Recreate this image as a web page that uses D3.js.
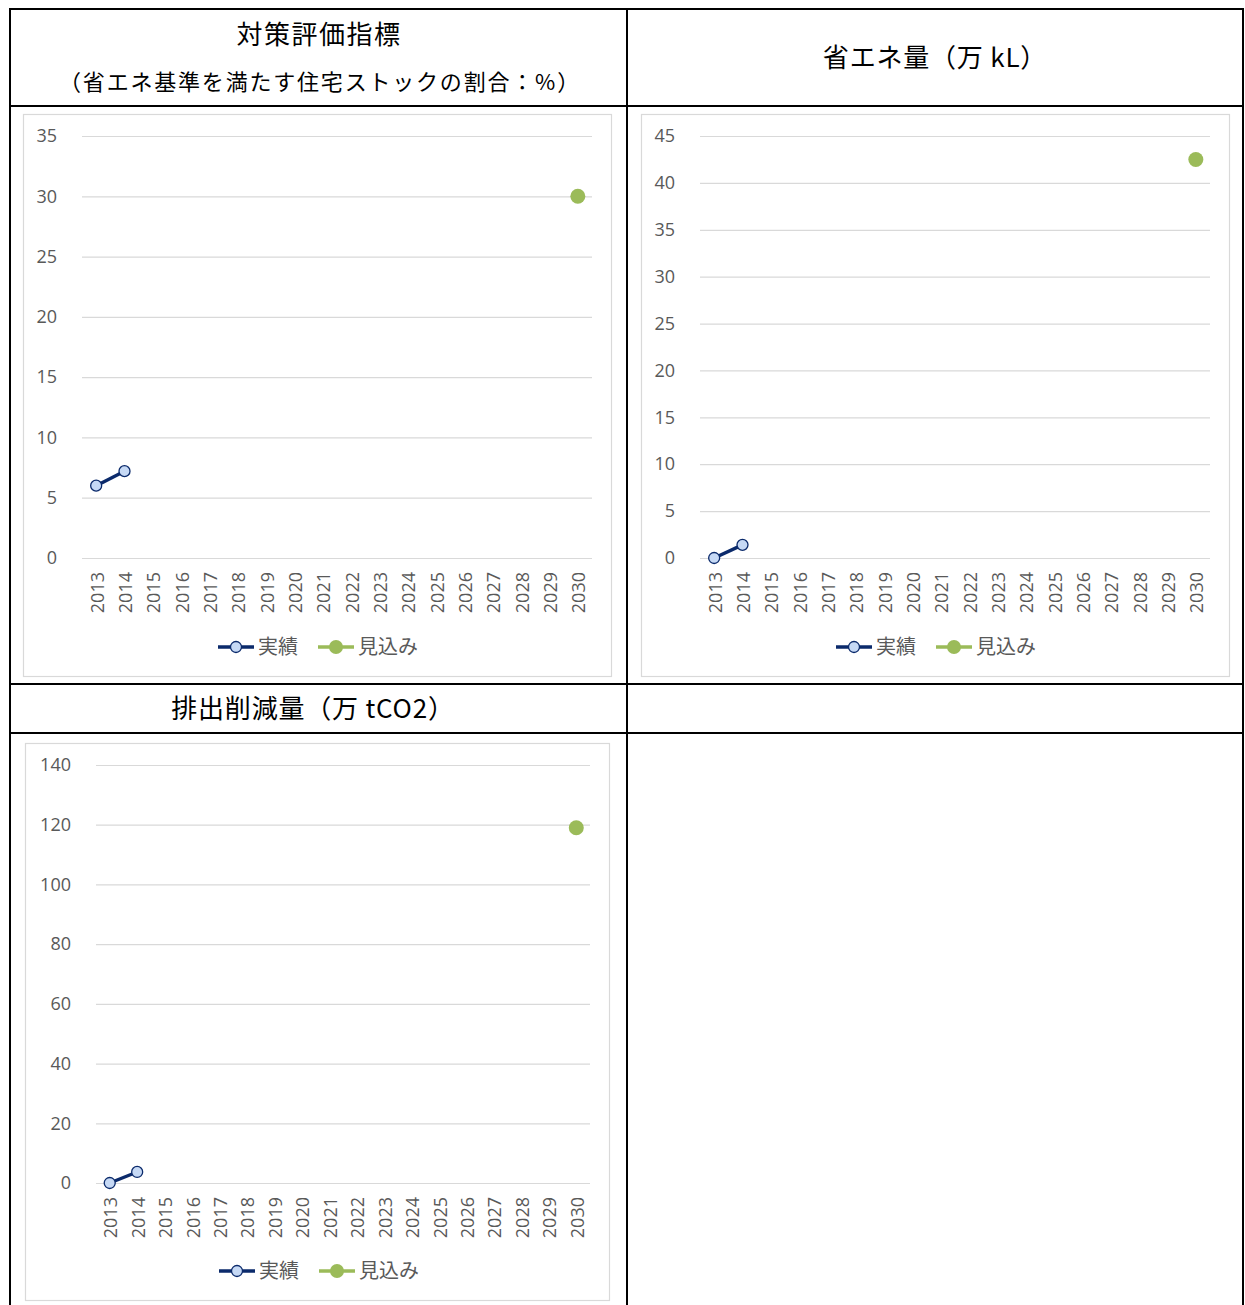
<!DOCTYPE html>
<html>
<head>
<meta charset="utf-8">
<script src="https://cdn.jsdelivr.net/npm/d3@7"></script>
<style>
  html, body { margin: 0; padding: 0; background: #fff; }
  svg { display: block; }
</style>
</head>
<body>
<svg id="chart" width="1245" height="1305"></svg>
<script>
// ---- data ----
const years = ["2013","2014","2015","2016","2017","2018","2019","2020","2021","2022","2023","2024","2025","2026","2027","2028","2029","2030"];
const seriesNames = ["実績", "見込み"];

const titles = ["対策評価指標", "（省エネ基準を満たす住宅ストックの割合：%）", "省エネ量（万 kL）", "排出削減量（万 tCO2）"];

const ratioTicks = [0, 5, 10, 15, 20, 25, 30, 35];
const ratioActualYears = ["2013", "2014"];
const ratioActual = [6.0, 7.2];
const ratioForecastYears = ["2030"];
const ratioForecast = [30];

const energyTicks = [0, 5, 10, 15, 20, 25, 30, 35, 40, 45];
const energyActualYears = ["2013", "2014"];
const energyActual = [0, 1.4];
const energyForecastYears = ["2030"];
const energyForecast = [42.5];

const co2Ticks = [0, 20, 40, 60, 80, 100, 120, 140];
const co2ActualYears = ["2013", "2014"];
const co2Actual = [0, 3.7];
const co2ForecastYears = ["2030"];
const co2Forecast = [119];

// ---- styles ----
const navy = "#0b2a6b";
const lightBlue = "#c6d9f5";
const green = "#9bbb59";
const gridColor = "#d9d9d9";
const textGray = "#595959";
const tickFont = "'Open Sans', 'Liberation Sans', sans-serif";
const jpFont = "'Noto Sans CJK JP', sans-serif";

const svg = d3.select("#chart");

// ---- table frame ----
const frame = svg.append("g").attr("stroke", "#000").attr("stroke-width", 2).attr("fill", "none");
[[9, 9, 1244, 9], [9, 106, 1244, 106], [9, 684, 1244, 684], [9, 733, 1244, 733],
 [10, 9, 10, 1305], [627, 9, 627, 1305], [1243, 9, 1243, 1305]].forEach(l => {
  frame.append("line").attr("x1", l[0]).attr("y1", l[1]).attr("x2", l[2]).attr("y2", l[3]);
});

// ---- headers ----
function header(txt, x, y, size, ls) {
  svg.append("text").attr("x", x).attr("y", y)
    .attr("text-anchor", "middle")
    .attr("font-family", jpFont).attr("font-size", size)
    .attr("letter-spacing", ls)
    .attr("fill", "#000").text(txt);
}
header(titles[0], 319, 44, 26, 1.5);
header(titles[1], 320, 90, 22, 1.8);
header(titles[2], 935, 67, 26, 0.8);
header(titles[3], 313, 718, 26, 0.8);

// ---- chart drawing ----
function drawChart(cfg) {
  const g = svg.append("g");
  // panel
  g.append("rect")
    .attr("x", cfg.panel[0] + 0.5).attr("y", cfg.panel[1] + 0.5)
    .attr("width", cfg.panel[2] - cfg.panel[0]).attr("height", cfg.panel[3] - cfg.panel[1])
    .attr("fill", "#fff").attr("stroke", gridColor).attr("stroke-width", 1.2);

  const x = d3.scalePoint().domain(years).range([cfg.x0, cfg.x1]).padding(0.5);
  const y = d3.scaleLinear().domain([0, d3.max(cfg.ticks)]).range([cfg.y0, cfg.y1]);

  // gridlines + y labels
  const yAxis = d3.axisLeft(y).tickValues(cfg.ticks).tickSize(-(cfg.x1 - cfg.x0)).tickPadding(25);
  const ya = g.append("g").attr("transform", `translate(${cfg.x0},0)`).call(yAxis);
  ya.select(".domain").remove();
  ya.selectAll(".tick line").attr("stroke", gridColor).attr("stroke-width", 1.2);
  ya.selectAll(".tick text").attr("font-family", tickFont).attr("font-size", 18)
    .attr("fill", textGray);

  // x labels
  const xAxis = d3.axisBottom(x).tickSize(0).tickPadding(0);
  const xa = g.append("g").attr("transform", `translate(0,${cfg.y0})`).call(xAxis);
  xa.select(".domain").remove();
  xa.selectAll(".tick text")
    .attr("font-family", tickFont).attr("font-size", 18).attr("fill", textGray)
    .attr("text-anchor", "end").attr("dy", null).attr("y", 0)
    .attr("dominant-baseline", "central")
    .attr("transform", "translate(0,14) rotate(-90)");

  // actual series
  const actual = cfg.actualYears.map((yr, i) => ({ yr, v: cfg.actual[i] }));
  g.append("path").datum(actual)
    .attr("fill", "none").attr("stroke", navy).attr("stroke-width", 3.4)
    .attr("d", d3.line().x(d => x(d.yr)).y(d => y(d.v)));
  g.selectAll(".act").data(actual).enter().append("circle")
    .attr("cx", d => x(d.yr)).attr("cy", d => y(d.v)).attr("r", 5.5)
    .attr("fill", lightBlue).attr("stroke", navy).attr("stroke-width", 1.3);

  // forecast series
  const fc = cfg.forecastYears.map((yr, i) => ({ yr, v: cfg.forecast[i] }));
  g.selectAll(".fc").data(fc).enter().append("circle")
    .attr("cx", d => x(d.yr)).attr("cy", d => y(d.v)).attr("r", 7.5)
    .attr("fill", green);

  // legend
  const lg = g.append("g").attr("transform", `translate(${cfg.legendX},${cfg.legendY})`);
  // item 1
  lg.append("line").attr("x1", 0).attr("x2", 36).attr("y1", 0).attr("y2", 0)
    .attr("stroke", navy).attr("stroke-width", 3.4);
  lg.append("circle").attr("cx", 18).attr("cy", 0).attr("r", 5.5)
    .attr("fill", lightBlue).attr("stroke", navy).attr("stroke-width", 1.3);
  lg.append("text").attr("x", 40).attr("y", 0).attr("dy", "0.35em")
    .attr("font-family", jpFont).attr("font-size", 20).attr("fill", textGray).text(seriesNames[0]);
  // item 2
  lg.append("line").attr("x1", 100).attr("x2", 136).attr("y1", 0).attr("y2", 0)
    .attr("stroke", green).attr("stroke-width", 3.4);
  lg.append("circle").attr("cx", 118).attr("cy", 0).attr("r", 7).attr("fill", green);
  lg.append("text").attr("x", 140).attr("y", 0).attr("dy", "0.35em")
    .attr("font-family", jpFont).attr("font-size", 20).attr("fill", textGray).text(seriesNames[1]);
}

drawChart({
  panel: [23, 114, 611, 676], x0: 82, x1: 592, y0: 558, y1: 136,
  ticks: ratioTicks, actualYears: ratioActualYears, actual: ratioActual,
  forecastYears: ratioForecastYears, forecast: ratioForecast,
  legendX: 218, legendY: 647
});
drawChart({
  panel: [641, 114, 1229, 676], x0: 700, x1: 1210, y0: 558, y1: 136,
  ticks: energyTicks, actualYears: energyActualYears, actual: energyActual,
  forecastYears: energyForecastYears, forecast: energyForecast,
  legendX: 836, legendY: 647
});
drawChart({
  panel: [25, 743, 609, 1300], x0: 96, x1: 590, y0: 1183, y1: 765,
  ticks: co2Ticks, actualYears: co2ActualYears, actual: co2Actual,
  forecastYears: co2ForecastYears, forecast: co2Forecast,
  legendX: 219, legendY: 1271
});
</script>
</body>
</html>
